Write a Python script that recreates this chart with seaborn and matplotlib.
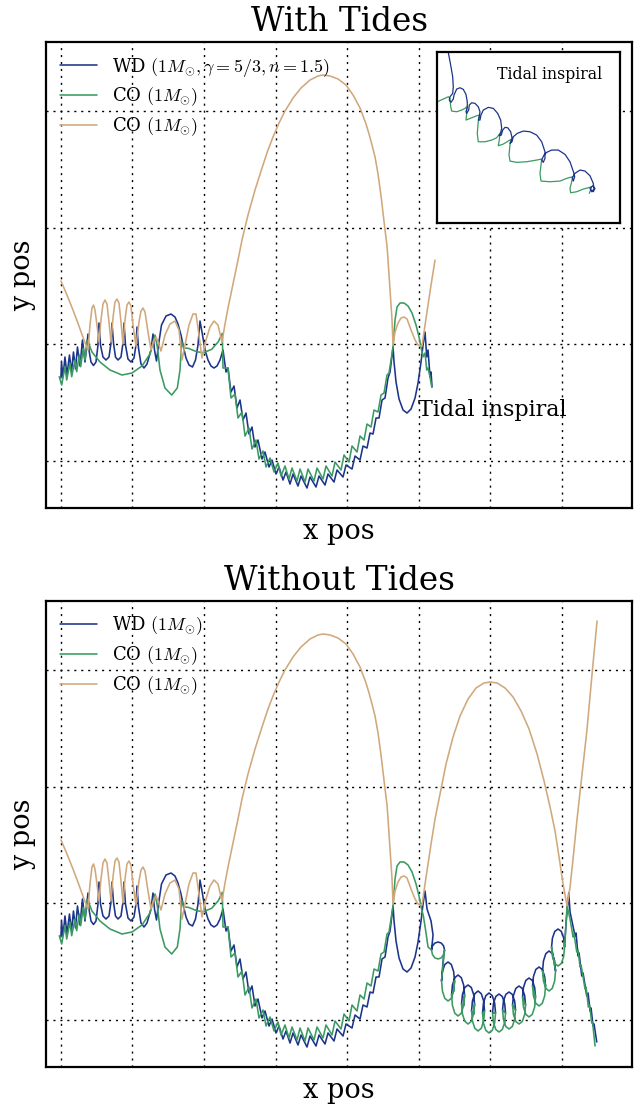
import numpy as np
import matplotlib
matplotlib.use("Agg")
import matplotlib.pyplot as plt
import seaborn as sns

# orbits, arbitrary length units
# part that is the same in both runs (up to the second close passage)
wd_shared = [
    (0, -34), (0.5, -18), (2, -33), (4, -13), (6, -31), (8.5, -11), (10.5, -28), (12.5, -8),
    (14.5, -25), (16.5, -3), (19, -22), (21.5, 4), (24, -18), (27, 10),
    (28, -6), (30, -18), (32.5, -21.5), (35, -18), (37, -1), (38, 21), (39.5, -1), (42, -13),
    (45, -16), (48, -13), (50, 1), (51, 21), (52.5, 1), (54.5, -13), (57, -16), (60, -13),
    (62, 1), (63, 21), (64.5, -1), (67, -15), (70, -18), (73, -14), (75, -1), (76, 17),
    (77.5, -4), (80, -20), (83, -24), (86, -20), (90, -6), (92, 10), (93.5, -6), (95.5, -17),
    (97.5, -1), (100.5, 19), (105, 28), (110, 30), (114, 27), (117, 20), (120, 9), (122.5, -3),
    (125, -14), (128, -21), (131.5, -23), (134.5, -16), (137, -1), (139, 23), (141, 12),
    (144, -6), (147, -16), (150, -22), (153, -24), (156, -22), (159, -16), (162, -6),
    (165, -28), (167, -24), (170, -48), (173, -42), (176, -64), (179, -56), (182, -76),
    (185, -69), (188, -90), (191, -83), (194, -103), (197, -96), (201, -115), (204, -108),
    (208, -123), (211, -116), (215, -130), (218, -123), (222, -136), (225, -128), (229, -140),
    (232, -130), (237, -142), (240, -132), (246, -144), (249, -133), (255, -143), (258, -132),
    (264, -141), (267, -130), (273, -138), (276, -126), (282, -133), (285, -121), (291, -125),
    (294, -112), (299, -116), (302, -102), (306, -104), (309, -89), (312, -90), (315, -74),
    (318, -74), (321, -56), (324, -54), (327, -34), (329, -28), (332, -3),
    (333, -18), (335, -38), (338, -55), (342, -66), (346, -69), (350, -65), (354, -54),
    (357, -39), (360, -18), (362, -1), (364, 12),
]
co1_shared = [
    (-1.7, -32.7), (0.7, -41), (4, -22.7), (5.7, -36), (9, -19.3), (10.7, -32.7), (14, -16),
    (15.7, -27.7), (18.3, -11), (19.7, -22.7), (22.3, -4.3), (24, -16), (26.3, 4),
    (31, -8), (39, -18), (49, -26), (61, -31), (71, -29), (81, -22), (89, -10), (94, 9),
    (96.3, -2.7), (99, -26), (104, -44), (110.7, -51), (116.3, -44), (119, -26), (120.7, 2.3),
    (123, -4), (127.3, -4.3), (135.7, -7.7), (142.3, -8.7), (150.7, -5.3), (157.3, 2.3),
    (161.3, 10.7),
    (162, -24), (167, -24), (170, -54), (174, -50), (177, -74), (181, -68), (184, -92),
    (188, -84), (191, -105), (195, -96), (198, -115), (202, -107), (205, -123), (209, -114),
    (213, -128), (217, -119), (220, -132), (224, -122), (228, -135), (231, -124), (236, -137),
    (239, -125), (244, -138), (247, -125), (253, -137), (256, -124), (262, -135), (265, -122),
    (271, -132), (274, -118), (280, -126), (283, -111), (288, -118), (291, -102), (296, -108),
    (299, -92), (303, -96), (306, -80), (310, -83), (313, -66), (317, -68), (320, -51),
    (323, -49), (326, -31), (328, -29), (332, -3),
    (334, 24), (336, 37), (339, 41), (343, 41), (347, 38), (351, 31), (355, 19), (358, 7),
    (360.5, -6), (362.3, -12.7),
]
co2_shared = [
    (0, 63), (6, 49), (12, 34), (18, 18), (23, 4), (27, -6),
    (29, 19), (31, 36), (32.5, 39), (34, 34), (36, 19), (38, 2),
    (40, 24), (42, 40), (44, 44), (46, 40), (48, 22), (50, 2),
    (52, 26), (54, 42), (56, 45), (58, 41), (60, 22), (62, 0),
    (64, 24), (66, 39), (68, 42), (70, 38), (72, 19), (75, -2),
    (78, 22), (80, 33), (82, 36), (84, 32), (87, 12), (90, -6),
    (93, 4), (95, 7), (97, 2), (100, -7),
    (104, 9), (109, 20), (114, 23), (118, 14), (121, -16),
    (124, -1), (128, 19), (132, 30), (135, 30), (137, 16), (141, -14),
    (145, 4), (149, 17), (153, 23), (157, 19), (161, 2),
    (164, 20), (167, 36), (172, 60), (177, 84), (181, 104), (187, 129), (194, 154),
    (201, 176), (207, 194), (212, 207), (218, 221), (224, 233), (232, 246), (240, 256),
    (249, 264), (257, 268), (262, 269), (269, 268), (277, 265), (285, 259), (292, 249),
    (299, 236), (305, 220), (308, 210), (311, 199), (314, 187), (317, 170), (320, 148),
    (322, 131), (324, 114), (326, 98), (327, 84), (329, 54), (331, 24), (332, -1),
    (334, 12), (337, 21), (340, 26), (343, 27), (346, 25), (350, 14), (354, 4), (357, -1),
    (361, -2), (364, 19), (367, 39), (370, 59), (374, 84),
]

# with tides: the WD is captured
wd_tide = [(365.7, -13), (367, -6), (369, -33), (370, -28), (371, -43)]
co1_tide = [(364, -9), (365.7, -26), (367, -24), (369, -33), (370.7, -43)]

# without tides: the pair keeps orbiting and is flung out again
wd_free = [
    (366, -6), (370, -18), (372, -32),
    (370.5, -47), (371.4, -43), (373.75, -40.1), (377, -39), (380.25, -40.1), (382.6, -43), (383.5, -47),
    (382.6, -51.5),
    (380.5, -78), (381.4, -68.5), (383.75, -61.5), (387, -59), (390.25, -61.5), (392.6, -68.5), (393.5, -78),
    (392.6, -88),
    (390.5, -92), (391.4, -82), (393.75, -74.7), (397, -72), (400.25, -74.7), (402.6, -82), (403.5, -92),
    (402.6, -102.5),
    (400.5, -101), (401.4, -91.5), (403.75, -84.5), (407, -82), (410.25, -84.5), (412.6, -91.5), (413.5, -101),
    (412.6, -111),
    (410.5, -108), (411.4, -98), (413.75, -90.7), (417, -88), (420.25, -90.7), (422.6, -98), (423.5, -108),
    (421.5, -110), (422.4, -100), (424.75, -92.7), (428, -90), (431.25, -92.7), (433.6, -100), (434.5, -110),
    (431.5, -110), (432.4, -100.5), (434.75, -93.5), (438, -91), (441.25, -93.5), (443.6, -100.5), (444.5, -110),
    (441.5, -107), (442.4, -98), (444.75, -91.4), (448, -89), (451.25, -91.4), (453.6, -98), (454.5, -107),
    (451.5, -102), (452.4, -92.5), (454.75, -85.5), (458, -83), (461.25, -85.5), (463.6, -92.5), (464.5, -102),
    (461.5, -94), (462.4, -84.5), (464.75, -77.5), (468, -75), (471.25, -77.5), (473.6, -84.5), (474.5, -94),
    (471.5, -83), (472.4, -73.5), (474.75, -66.5), (478, -64), (481.25, -66.5), (483.6, -73.5), (484.5, -83),
    (481.5, -68), (482.4, -58), (484.75, -50.7), (488, -48), (491.25, -50.7), (493.6, -58), (494.5, -68),
    (490.5, -44), (491.4, -35), (493.75, -28.4), (497, -26), (500.25, -28.4), (502.6, -35), (503.5, -44),
    (505, -20), (507.7, 10), (509, -9), (514, -33), (515, -30), (517, -53), (518, -50),
    (520.7, -73), (522, -70), (525.7, -93), (527, -90), (529, -108), (530, -105),
    (532, -123), (533, -121), (535.7, -139),
]
co1_free = [
    (365, -30), (367, -44),
    (370.5, -47), (371.4, -51.5), (373.75, -54.8), (377, -56), (380.25, -54.8), (382.6, -51.5), (383.5, -47),
    (380.5, -78), (381.4, -88), (383.75, -95.3), (387, -98), (390.25, -95.3), (392.6, -88), (393.5, -78),
    (392.6, -88),
    (390.5, -92), (391.4, -102.5), (393.75, -110.2), (397, -113), (400.25, -110.2), (402.6, -102.5), (403.5, -92),
    (402.6, -102.5),
    (400.5, -101), (401.4, -111), (403.75, -118.3), (407, -121), (410.25, -118.3), (412.6, -111), (413.5, -101),
    (412.6, -111),
    (410.5, -108), (411.4, -118), (413.75, -125.3), (417, -128), (420.25, -125.3), (422.6, -118), (423.5, -108),
    (421.5, -110), (422.4, -120), (424.75, -127.3), (428, -130), (431.25, -127.3), (433.6, -120), (434.5, -110),
    (431.5, -110), (432.4, -119.5), (434.75, -126.5), (438, -129), (441.25, -126.5), (443.6, -119.5), (444.5, -110),
    (441.5, -107), (442.4, -116.5), (444.75, -123.5), (448, -126), (451.25, -123.5), (453.6, -116.5), (454.5, -107),
    (451.5, -102), (452.4, -111.5), (454.75, -118.5), (458, -121), (461.25, -118.5), (463.6, -111.5), (464.5, -102),
    (461.5, -94), (462.4, -104), (464.75, -111.3), (468, -114), (471.25, -111.3), (473.6, -104), (474.5, -94),
    (471.5, -83), (472.4, -93), (474.75, -100.3), (478, -103), (481.25, -100.3), (483.6, -93), (484.5, -83),
    (481.5, -68), (482.4, -78), (484.75, -85.3), (488, -88), (491.25, -85.3), (493.6, -78), (494.5, -68),
    (490.5, -44), (491.4, -53.5), (493.75, -60.5), (497, -63), (500.25, -60.5), (502.6, -53.5), (503.5, -44),
    (505, -20), (506, -3), (509, -16), (512, -34), (513, -31), (515.7, -49), (517, -47),
    (519, -64), (520, -62), (522.3, -76), (524, -86), (525, -84), (527.3, -104),
    (528.5, -102), (530.7, -120), (531.5, -119), (534, -143),
]
co2_free = [
    (379, 109), (385, 139), (392, 166), (399, 187), (407, 204), (415, 215), (423, 220),
    (429, 221), (436, 220), (444, 215), (452, 206), (460, 192), (468, 174), (476, 149),
    (483, 122), (489, 96), (494, 72), (498, 46), (502, 19), (506, -3), (509, 16),
    (512, 44), (516, 84), (521, 129), (526, 174), (531, 229), (536, 282),
]

# zoom on the tidal inspiral (inset units)
inset_wd = [
    (10.7, 178), (11.3, 170.7), (13.7, 158), (15.7, 146.3), (16.3, 136.3), (15.7, 129.7),
    (13, 126.3), (12.3, 123), (14, 120.7), (16.3, 124), (17, 128), (19.7, 134), (23, 135.3),
    (26.3, 133.7), (29, 128.7), (30.3, 121.3), (30.3, 115.3), (29, 111.3), (29.7, 109.7),
    (31.7, 113), (32.3, 118), (34.7, 120.3), (38, 119.7), (41.3, 116.3), (43, 111.3),
    (42.3, 106.3), (41.3, 103), (43, 103), (44, 108), (46.3, 113), (51.3, 115.7),
    (56.3, 114.7), (60.7, 109.7), (63.7, 103), (64.7, 94.7), (63.7, 90.7), (62.3, 87.3),
    (64.3, 88), (65.7, 93), (68, 95.7), (70.7, 95.3), (73.7, 91.3), (75, 85.3), (74, 81.3),
    (73, 79.7), (75, 81.3), (76.3, 86.3), (80.3, 89.7), (86.3, 92), (93, 91.3), (99.7, 88),
    (104.7, 81.3), (108, 71.3), (108, 64.7), (106.3, 60.7), (104.7, 63), (107, 68),
    (109.7, 70.7), (114.7, 73), (121.3, 73), (128, 68.7), (133, 61.3), (137, 49.7),
    (137.7, 46.3), (136.3, 42), (135.3, 45.3), (138, 49.7), (143, 53), (148, 52),
    (153, 47.3), (156.3, 39.7), (157, 34), (154.7, 31.3), (153, 34.7), (155.7, 37.3),
    (158, 34.7), (156.3, 31.3), (154, 33),
]
inset_co1 = [
    (-7, 118.7), (0.3, 121.3), (6.3, 124), (11.3, 126.3), (13, 124.7), (13.7, 116.3),
    (14.7, 112), (19.7, 111.3), (24.7, 113), (28, 114.7), (29.7, 116.3), (29.7, 109.7),
    (29, 103), (34.7, 105.3), (39.7, 107.3), (42.3, 108), (41.3, 101.3), (40.3, 89.7),
    (41.3, 81.3), (48, 81.3), (54.7, 83), (59.7, 85.3), (63, 89.7), (62.3, 83), (61.3, 77.3),
    (66.3, 79), (71.3, 82), (74, 83.7), (73, 78), (72, 68), (73, 62), (79.7, 60.7),
    (89.7, 61.3), (99.7, 63), (104.7, 64), (104, 58), (103, 49.7), (104, 42), (113, 41.3),
    (123, 42), (129.7, 44.7), (135.7, 46.3), (134.7, 41.3), (133, 34.7), (133.7, 30.3),
    (139.7, 31.3), (146.3, 34), (151.3, 35.3), (154.7, 36.3), (153, 31.3), (152.3, 29.7),
]

grid_x = [0, 71, 143, 215, 286, 358, 429, 501]
grid_y = [-117, 0, 116, 233]

BLUE = "#1c3489"
GREEN = "#3a9a62"
TAN = "#d0a87c"

sns.set_style("white")
plt.rcParams["font.family"] = ["DejaVu Serif"]
plt.rcParams["mathtext.fontset"] = "cm"
plt.rcParams["text.color"] = "black"
plt.rcParams["axes.labelcolor"] = "black"


def draw_track(ax, pts, color, label=None, lw=1.15):
    arr = np.array(pts)
    sns.lineplot(x=arr[:, 0], y=arr[:, 1], sort=False, estimator=None,
                 color=color, lw=lw, ax=ax, label=label, legend=False)


def style_axes(ax, title):
    ax.set_xlim(-15, 571)
    ax.set_ylim(-164, 302)
    ax.set_xticks(grid_x)
    ax.set_yticks(grid_y)
    ax.tick_params(length=0, labelbottom=False, labelleft=False)
    ax.grid(True, color="k", linestyle=(0, (1.5, 3.5)), linewidth=1.0)
    for sp in ax.spines.values():
        sp.set_color("k")
        sp.set_linewidth(1.6)
    ax.set_title(title, fontsize=23.5, pad=8, color="black")
    ax.set_xlabel("x pos", fontsize=19.5, labelpad=7)
    ax.set_ylabel("y pos", fontsize=19.5, labelpad=7)


fig = plt.figure(figsize=(6.43, 11.08), dpi=100)
ax1 = fig.add_axes([0.0715, 0.5415, 0.9115, 0.4206])
ax2 = fig.add_axes([0.0715, 0.0370, 0.9115, 0.4206])

# with tides
draw_track(ax1, wd_shared + wd_tide, BLUE, r"WD $(1M_{\odot},\gamma=5/3,n=1.5)$")
draw_track(ax1, co1_shared + co1_tide, GREEN, r"CO $(1M_{\odot})$")
draw_track(ax1, co2_shared, TAN, r"CO $(1M_{\odot})$")
style_axes(ax1, "With Tides")
ax1.text(357, -72, "Tidal inspiral", fontsize=16, va="baseline")

# without tides
draw_track(ax2, wd_shared + wd_free, BLUE, r"WD $(1M_{\odot})$")
draw_track(ax2, co1_shared + co1_free, GREEN, r"CO $(1M_{\odot})$")
draw_track(ax2, co2_shared + co2_free, TAN, r"CO $(1M_{\odot})$")
style_axes(ax2, "Without Tides")

for ax in (ax1, ax2):
    ax.legend(loc="upper left", frameon=False, fontsize=13, handlelength=2.1,
              labelspacing=0.4, borderaxespad=0.35)

# inset on the inspiral
axin = fig.add_axes([0.6796, 0.7987, 0.2846, 0.1543])
draw_track(axin, inset_co1, GREEN, lw=0.9)
draw_track(axin, inset_wd, BLUE, lw=0.9)
axin.set_xlim(0, 183)
axin.set_ylim(0, 171)
axin.set_xticks([])
axin.set_yticks([])
axin.set_xlabel("")
axin.set_ylabel("")
for sp in axin.spines.values():
    sp.set_color("k")
    sp.set_linewidth(1.6)
axin.text(0.326, 0.84, "Tidal inspiral", fontsize=11.3, transform=axin.transAxes,
          va="baseline")

fig.savefig("out.png", dpi=100)
